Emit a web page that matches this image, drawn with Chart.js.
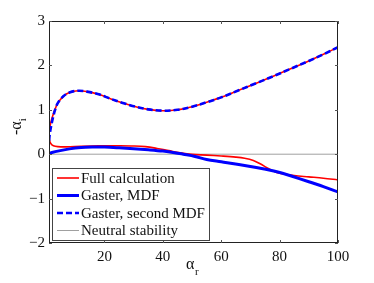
<!DOCTYPE html>
<html>
<head>
<meta charset="utf-8">
<script src="https://cdn.jsdelivr.net/npm/chart.js@4.4.1/dist/chart.umd.min.js"></script>
<style>
  html, body { margin: 0; padding: 0; background: #fff; }
  #wrap { width: 374px; height: 283px; }
</style>
</head>
<body>
<div id="wrap"><canvas id="chart" width="374" height="283"></canvas></div>
<script>
//Data
//Full calculation: one continuous path, upper branch right to left, then lower branch
const fullX = [100, 95, 90, 84, 78, 72, 66, 60, 55, 50, 45, 40, 35, 30, 26, 22, 18, 14, 11, 8, 6, 4, 3, 2.2, 1.5, 1.1, 1.0, 1.15, 1.6, 2.5, 4, 7, 12, 18, 25, 30, 34, 38, 42, 46, 50, 55, 60, 65, 68, 71, 73.5, 75.5, 77.5, 80, 85, 90, 95, 100];
const fullY = [2.41, 2.25, 2.1, 1.93, 1.76, 1.6, 1.44, 1.28, 1.17, 1.07, 1.0, 0.98, 1.01, 1.08, 1.16, 1.25, 1.35, 1.41, 1.43, 1.39, 1.31, 1.15, 1.0, 0.85, 0.68, 0.55, 0.46, 0.32, 0.24, 0.19, 0.17, 0.165, 0.18, 0.19, 0.19, 0.185, 0.17, 0.13, 0.08, 0.03, -0.005, -0.02, -0.04, -0.065, -0.09, -0.14, -0.22, -0.3, -0.37, -0.43, -0.48, -0.51, -0.54, -0.58];

//Gaster, MDF
const mdfX = [1, 4, 8, 12, 16, 20, 25, 30, 35, 40, 44, 47, 51, 55, 60, 66, 72, 78, 81, 84, 90, 95, 100];
const mdfY = [0.02, 0.07, 0.12, 0.15, 0.16, 0.16, 0.145, 0.125, 0.1, 0.07, 0.035, 0.0, -0.05, -0.12, -0.17, -0.23, -0.3, -0.38, -0.43, -0.49, -0.62, -0.73, -0.85];

//Gaster, second MDF
const mdf2X = [1, 1.3, 2, 3, 4, 6, 8, 11, 14, 18, 22, 26, 30, 35, 40, 45, 50, 55, 60, 66, 72, 78, 84, 90, 95, 100];
const mdf2Y = [0.3, 0.47, 0.72, 0.98, 1.15, 1.31, 1.39, 1.43, 1.41, 1.35, 1.25, 1.16, 1.08, 1.01, 0.98, 1.0, 1.07, 1.17, 1.28, 1.44, 1.6, 1.76, 1.93, 2.1, 2.25, 2.41];

//Neutral stability
const neutralX = [1, 100];
const neutralY = [0, 0];

const xTicks = [20, 40, 60, 80, 100];
const yTicks = [-2, -1, 0, 1, 2, 3];

const legendLabels = ["Full calculation", "Gaster, MDF", "Gaster, second MDF", "Neutral stability"];

const FONT = "'Liberation Serif', 'DejaVu Serif', serif";

const toPoints = (xs, ys) => xs.map((x, i) => ({ x: x, y: ys[i] }));

//Function draws the MATLAB style frame, inward ticks, legend box and axis titles
const matlabPlugin = {
    id: "matlab",
    afterDraw: (chart) => {
        const c = chart.ctx;
        const a = chart.chartArea;
        const xs = chart.scales.x;
        const ys = chart.scales.y;

        c.save();
        //frame
        c.strokeStyle = "#222";
        c.lineWidth = 1;
        c.strokeRect(a.left + 0.5, a.top + 0.5, a.right - a.left - 1, a.bottom - a.top - 1);

        //inward ticks
        c.strokeStyle = "#555";
        c.beginPath();
        xTicks.forEach((v) => {
            const px = Math.round(xs.getPixelForValue(v)) + 0.5;
            c.moveTo(px, a.bottom); c.lineTo(px, a.bottom - 3);
            c.moveTo(px, a.top); c.lineTo(px, a.top + 3);
        });
        yTicks.forEach((v) => {
            const py = Math.round(ys.getPixelForValue(v)) + 0.5;
            c.moveTo(a.left, py); c.lineTo(a.left + 3, py);
            c.moveTo(a.right, py); c.lineTo(a.right - 3, py);
        });
        c.stroke();

        //legend
        const box = { l: 52, t: 168, r: 209, b: 240 };
        c.fillStyle = "#fff";
        c.fillRect(box.l, box.t, box.r - box.l, box.b - box.t);
        c.strokeStyle = "#444";
        c.strokeRect(box.l + 0.5, box.t + 0.5, box.r - box.l, box.b - box.t);
        const rows = [178, 195.5, 213, 230.5];
        const ds = chart.data.datasets;
        legendLabels.forEach((label, i) => {
            const d = ds[i];
            c.beginPath();
            c.strokeStyle = d.borderColor;
            c.lineWidth = d.borderWidth;
            c.setLineDash(d.borderDash || []);
            c.moveTo(57, rows[i]);
            c.lineTo(79, rows[i]);
            c.stroke();
            c.setLineDash([]);
            c.fillStyle = "#111";
            c.font = "15px " + FONT;
            c.textBaseline = "middle";
            c.textAlign = "left";
            c.fillText(label, 81, rows[i] + 1);
        });

        //x title: alpha_r
        c.fillStyle = "#111";
        c.textBaseline = "alphabetic";
        c.font = "16px " + FONT;
        c.fillText("α", 186, 269);
        c.font = "11px " + FONT;
        c.fillText("r", 195, 275);

        //y title: -alpha_i
        c.translate(21, 135);
        c.rotate(-Math.PI / 2);
        c.font = "16px " + FONT;
        c.fillText("-α", 0, 0);
        const w = c.measureText("-α").width;
        c.font = "11px " + FONT;
        c.fillText("i", w, 5);
        c.restore();
    },
};

const ctx = document.getElementById("chart");

const chart = new Chart(ctx, {
    type: "scatter",
    data: {
        datasets: [
            {
                label: legendLabels[0],
                data: toPoints(fullX, fullY),
                borderColor: "#ff0000",
                borderWidth: 1.6,
                showLine: true,
                pointRadius: 0,
                tension: 0.35,
                order: 3,
            },
            {
                label: legendLabels[1],
                data: toPoints(mdfX, mdfY),
                borderColor: "#0000ff",
                borderWidth: 3,
                showLine: true,
                pointRadius: 0,
                tension: 0.35,
                order: 2,
            },
            {
                label: legendLabels[2],
                data: toPoints(mdf2X, mdf2Y),
                borderColor: "#0000ff",
                borderWidth: 2.6,
                borderDash: [6, 3],
                showLine: true,
                pointRadius: 0,
                tension: 0.35,
                order: 1,
            },
            {
                label: legendLabels[3],
                data: toPoints(neutralX, neutralY),
                borderColor: "#a0a0a0",
                borderWidth: 1,
                showLine: true,
                pointRadius: 0,
                order: 4,
            },
        ],
    },
    options: {
        responsive: false,
        animation: false,
        devicePixelRatio: 1,
        layout: { padding: { top: 21, right: 36, left: 0, bottom: 0 } },
        plugins: {
            legend: { display: false },
            tooltip: { enabled: false },
        },
        scales: {
            x: {
                type: "linear",
                min: 1,
                max: 100,
                afterBuildTicks: (scale) => {
                    scale.ticks = xTicks.map((v) => ({ value: v }));
                },
                afterFit: (scale) => {
                    scale.height = 40;
                },
                grid: { display: false, drawTicks: false },
                border: { display: false },
                ticks: {
                    padding: 5,
                    color: "#111",
                    font: { family: FONT, size: 15 },
                },
            },
            y: {
                type: "linear",
                min: -2,
                max: 3,
                afterBuildTicks: (scale) => {
                    scale.ticks = yTicks.map((v) => ({ value: v }));
                },
                afterFit: (scale) => {
                    scale.width = 49;
                },
                grid: { display: false, drawTicks: false },
                border: { display: false },
                ticks: {
                    padding: 4,
                    color: "#111",
                    font: { family: FONT, size: 15 },
                    callback: (v) => (v < 0 ? "\u2212" + Math.abs(v) : String(v)),
                },
            },
        },
    },
    plugins: [matlabPlugin],
});
</script>
</body>
</html>
